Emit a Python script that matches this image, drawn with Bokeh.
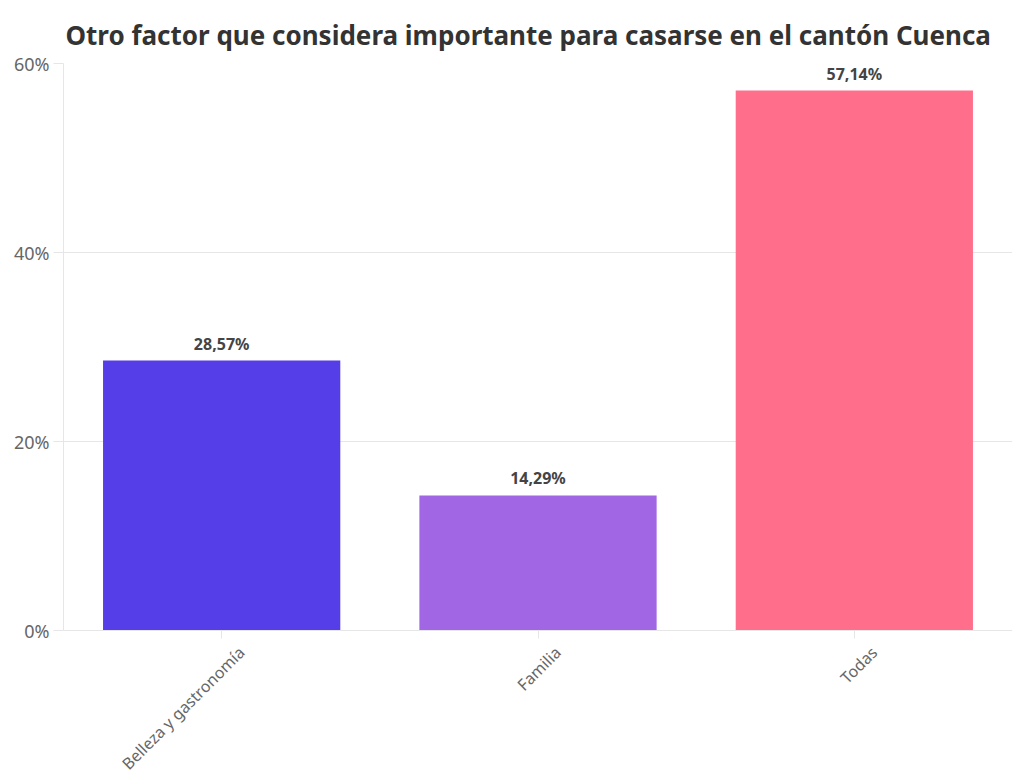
import math
from bokeh.plotting import figure
from bokeh.models import (ColumnDataSource, PrintfTickFormatter, FixedTicker, LinearAxis,
                          Range1d)
from bokeh.core.properties import value
from bokeh.embed import file_html
from bokeh.resources import INLINE

categories = ["Belleza y gastronomía", "Familia", "Todas"]
values = [28.57, 14.29, 57.14]
colors = ["#553DE8", "#A066E4", "#FF6F8C"]
labels = [f"{v:.2f}".replace(".", ",") + "%" for v in values]
y_ticks = [0, 20, 40, 60]

n = len(categories)
pos = list(range(n))
src = ColumnDataSource(dict(x=pos, cat=categories, val=values, color=colors, label=labels))

p = figure(x_range=Range1d(-0.5, n - 0.5), y_range=(0, 60), width=1012, height=784,
           output_backend="svg", toolbar_location=None, x_axis_location=None,
           min_border_left=63, min_border_right=0, min_border_top=63, min_border_bottom=20)
p.title.text = "Otro factor que considera importante para casarse en el cantón Cuenca"
p.title.text_font = "Noto Sans"
p.title.text_font_size = "26px"
p.title.text_font_style = "bold"
p.title.text_color = "#333333"
p.title.align = "left"
p.title.offset = 2
p.title.standoff = 22
p.outline_line_color = None

p.vbar(x="x", top="val", width=0.75, color="color", line_color=None, source=src)
p.text(x="x", y="val", text="label", source=src, text_align="center", text_baseline="bottom",
       y_offset=-6, text_font=value("Noto Sans"), text_font_size="16px",
       text_font_style="bold", text_color="#444444")

p.yaxis.ticker = FixedTicker(ticks=y_ticks)
p.yaxis.formatter = PrintfTickFormatter(format="%d%%")
p.yaxis.major_label_text_font = "Noto Sans"
p.yaxis.major_label_text_font_size = "18px"
p.yaxis.major_label_text_color = "#666666"
p.yaxis.axis_line_color = "#e6e6e6"
p.yaxis.major_tick_line_color = "#e6e6e6"
p.yaxis.major_tick_out = 10
p.yaxis.major_tick_in = 0
p.yaxis.minor_tick_line_color = None
p.yaxis.major_label_standoff = 4

# x axis: labels shifted slightly right of the category ticks, like the reference
shift = 0.063
p.extra_x_ranges = {"lab": Range1d(start=-0.5 - shift, end=n - 0.5 - shift)}
lab_axis = LinearAxis(x_range_name="lab",
                      ticker=FixedTicker(ticks=pos, minor_ticks=[i - shift for i in pos]),
                      major_label_overrides={i: c for i, c in zip(pos, categories)})
lab_axis.major_label_orientation = math.pi / 4
lab_axis.major_label_text_font = "Noto Sans"
lab_axis.major_label_text_font_size = "16px"
lab_axis.major_label_text_color = "#666666"
lab_axis.axis_line_color = "#e6e6e6"
lab_axis.major_tick_line_color = None
lab_axis.major_tick_out = 0
lab_axis.major_tick_in = 0
lab_axis.minor_tick_line_color = "#e6e6e6"
lab_axis.minor_tick_out = 8
lab_axis.minor_tick_in = 0
lab_axis.major_label_standoff = 11
p.add_layout(lab_axis, "below")

p.xgrid.grid_line_color = None
p.ygrid.grid_line_color = "#e6e6e6"

open("out.html", "w").write(file_html(p, INLINE))
